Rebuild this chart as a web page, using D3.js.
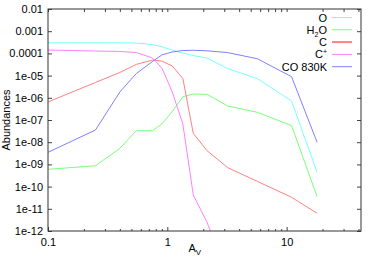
<!DOCTYPE html>
<html>
<head>
<meta charset="utf-8">
<script src="https://cdn.jsdelivr.net/npm/d3@7"></script>
<style>
  body { margin: 0; background: #fff; }
  text { font-family: "Liberation Sans", Arial, sans-serif; }
</style>
</head>
<body>
<div id="chart"></div>
<script>
// visual extinction grid (shared by all species)
const av = [0.1, 0.25, 0.4, 0.55, 0.75, 0.9, 1.1, 1.35, 1.65, 2.15, 3.2, 5.7, 11, 18];

const abO = [3.0e-4, 3.0e-4, 3.0e-4, 2.9e-4, 2.5e-4, 2.0e-4, 1.42e-4, 1.04e-4, 8.0e-5, 6.2e-5, 2.1e-5, 7.2e-6, 7.2e-7, 4.4e-10];
const abH2O = [6.0e-10, 8.7e-10, 5.3e-9, 3.3e-8, 3.3e-8, 6.6e-8, 2.4e-7, 1.12e-6, 1.48e-6, 1.44e-6, 4.3e-7, 2.2e-7, 5.6e-8, 3.5e-11];
const abC = [6.5e-7, 4.9e-6, 1.38e-5, 3.2e-5, 5.0e-5, 4.5e-5, 2.7e-5, 7.4e-6, 2.5e-8, 4.2e-9, 7.2e-10, 1.7e-10, 3.3e-11, 6.3e-12];
const abCp = [1.42e-4, 1.28e-4, 1.22e-4, 1.1e-4, 6.2e-5, 2.2e-5, 1.82e-6, 6.6e-8, 4.2e-11, 2.5e-12, 1e-14, 1e-16, 1e-18, 1e-19];
const abCO = [3.5e-9, 3.55e-8, 1.82e-6, 1.24e-5, 4.3e-5, 8.5e-5, 1.16e-4, 1.35e-4, 1.38e-4, 1.31e-4, 1.09e-4, 5.7e-5, 8.9e-6, 9.9e-9];

const seriesNames = ["O", "H2O", "C", "C+", "CO 830K"];
const seriesColors = ["#78ffff", "#78ff78", "#ff8080", "#ff80ff", "#8080ff"];

const yTicks = [1e-2, 1e-3, 1e-4, 1e-5, 1e-6, 1e-7, 1e-8, 1e-9, 1e-10, 1e-11, 1e-12];
const yTickLabels = ["0.01", "0.001", "0.0001", "1e-05", "1e-06", "1e-07", "1e-08", "1e-09", "1e-10", "1e-11", "1e-12"];
const xTicks = [0.1, 1, 10];
const xTickLabels = ["0.1", "1", "10"];

const W = 374, H = 262;
const margin = { top: 9, right: 13, bottom: 31, left: 48 };
const width = W - margin.left - margin.right,
  height = H - margin.top - margin.bottom;

const svg = d3.select("#chart").append("svg")
  .attr("width", W).attr("height", H);

const g = svg.append("g")
  .attr("transform", "translate(" + margin.left + "," + margin.top + ")");

const x = d3.scaleLog().domain([0.1, 42]).range([0, width]);
const y = d3.scaleLog().domain([1e-12, 1e-2]).range([height, 0]);

g.append("clipPath").attr("id", "clip")
  .append("rect").attr("width", width).attr("height", height);

// minor x ticks 2..9 per decade
const xMinor = [];
[0.1, 1, 10].forEach((d) => {
  for (let k = 2; k <= 9; k++) if (d * k <= 42) xMinor.push(d * k);
});

const tickColor = "#444";

// bottom + top ticks
g.append("g").attr("transform", "translate(0," + height + ")")
  .call(d3.axisBottom(x).tickValues(xTicks).tickSize(-4).tickFormat((d, i) => xTickLabels[i]).tickPadding(7))
  .call((a) => a.select(".domain").remove());
g.append("g").attr("transform", "translate(0," + height + ")")
  .call(d3.axisBottom(x).tickValues(xMinor).tickSize(-2).tickFormat(""))
  .call((a) => a.select(".domain").remove());
g.append("g")
  .call(d3.axisTop(x).tickValues(xTicks.concat(xMinor)).tickSize(-3).tickFormat(""))
  .call((a) => a.select(".domain").remove());

// left + right ticks
g.append("g")
  .call(d3.axisLeft(y).tickValues(yTicks).tickSize(-4).tickFormat((d, i) => yTickLabels[i]).tickPadding(5))
  .call((a) => a.select(".domain").remove());
g.append("g").attr("transform", "translate(" + width + ",0)")
  .call(d3.axisRight(y).tickValues(yTicks).tickSize(-4).tickFormat(""))
  .call((a) => a.select(".domain").remove());

g.selectAll(".tick line").attr("stroke", tickColor);
g.selectAll(".tick text").attr("font-size", 11).attr("fill", "#000");

// lines
const lineGen = d3.line()
  .x((d) => x(d[0]))
  .y((d) => y(d[1]));

const allSeries = [abO, abH2O, abC, abCp, abCO];
const lines = g.append("g").attr("clip-path", "url(#clip)");
allSeries.forEach((vals, i) => {
  lines.append("path")
    .datum(av.map((a, j) => [a, vals[j]]))
    .attr("fill", "none")
    .attr("stroke", seriesColors[i])
    .attr("stroke-width", 1)
    .attr("d", lineGen);
});

// frame
g.append("rect")
  .attr("width", width).attr("height", height)
  .attr("fill", "none").attr("stroke", "#333").attr("stroke-width", 1);

// legend
const legend = g.append("g");
seriesNames.forEach((name, i) => {
  const ly = 8.5 + i * 12.3;
  legend.append("line")
    .attr("x1", 284).attr("x2", 304)
    .attr("y1", ly).attr("y2", ly)
    .attr("stroke", seriesColors[i]).attr("stroke-width", i === 2 ? 2 : 1);
  const t = legend.append("text")
    .attr("x", 279).attr("y", ly + 4)
    .attr("text-anchor", "end").attr("font-size", 11);
  if (name === "H2O") {
    t.append("tspan").text("H");
    t.append("tspan").text("2").attr("font-size", 7).attr("dy", 3);
    t.append("tspan").text("O").attr("dy", -3);
  } else if (name === "C+") {
    t.append("tspan").text("C");
    t.append("tspan").text("+").attr("font-size", 7).attr("dy", -4);
  } else {
    t.text(name);
  }
});

// axis titles
svg.append("text")
  .attr("transform", "translate(10," + (margin.top + height / 2) + ") rotate(-90)")
  .attr("text-anchor", "middle").attr("font-size", 11)
  .text("Abundances");

const xt = svg.append("text")
  .attr("x", margin.left + x(1.7)).attr("y", 252)
  .attr("text-anchor", "middle").attr("font-size", 11);
xt.append("tspan").text("A");
xt.append("tspan").text("V").attr("font-size", 8).attr("dy", 3);
</script>
</body>
</html>
